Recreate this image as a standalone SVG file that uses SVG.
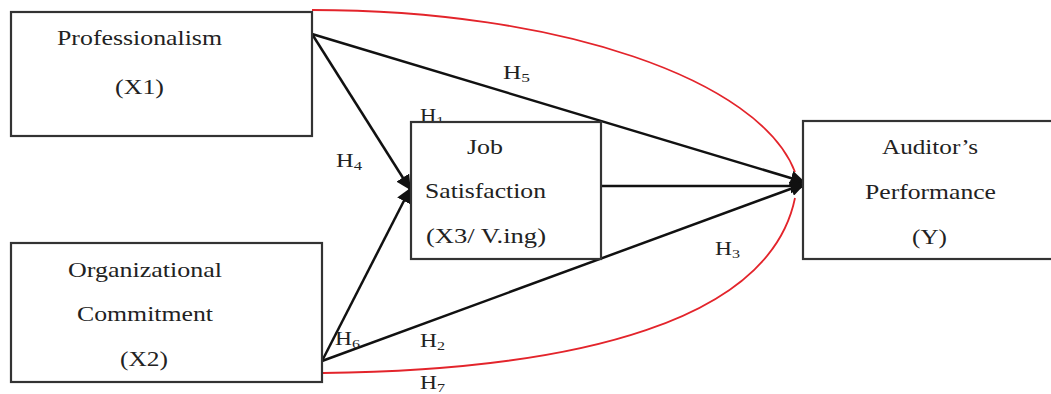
<svg xmlns="http://www.w3.org/2000/svg" width="1051" height="394" viewBox="0 0 1051 394">
<style>
.box{fill:#fff;stroke:#333;stroke-width:2.2}
.t{font-family:"Liberation Serif","Times New Roman",serif;font-size:21px;fill:#222}
.h{font-family:"Liberation Serif","Times New Roman",serif;font-size:19px;fill:#222}
.sub{font-size:13px}
.ln{stroke:#111;stroke-width:2.5;fill:none}
.red{stroke:#e3242b;stroke-width:1.8;fill:none}
</style>
<defs>
<marker id="ah" viewBox="0 0 10 10" refX="9" refY="5" markerWidth="6" markerHeight="6" markerUnits="strokeWidth" orient="auto">
<path d="M0,0 L10,5 L0,10 z" fill="#111"/>
</marker>
</defs>
<rect width="1051" height="394" fill="#fff"/>
<g id="labels-back">
<text class="h" x="420" y="122" textLength="24" lengthAdjust="spacingAndGlyphs">H<tspan class="sub" dy="3">1</tspan></text>
</g>
<g id="connectors">
<path class="red" d="M312,10 C560,10 760,80 795,172"/>
<path class="red" d="M323,373 C580,370 770,320 795,198"/>
<line class="ln" x1="312" y1="34" x2="804" y2="182" marker-end="url(#ah)"/>
<line class="ln" x1="312" y1="34" x2="410" y2="189" marker-end="url(#ah)"/>
<line class="ln" x1="322" y1="361" x2="410" y2="189" marker-end="url(#ah)"/>
<line class="ln" x1="322" y1="361" x2="804" y2="184" marker-end="url(#ah)"/>
<line class="ln" x1="601" y1="186" x2="804" y2="186" marker-end="url(#ah)"/>
</g>
<g id="node-x1">
<rect class="box" x="11" y="12" width="301" height="124"/>
<text class="t" x="57" y="45" textLength="165" lengthAdjust="spacingAndGlyphs">Professionalism</text>
<text class="t" x="115" y="94" textLength="49" lengthAdjust="spacingAndGlyphs">(X1)</text>
</g>
<g id="node-x3">
<rect class="box" x="411" y="122" width="190" height="137"/>
<text class="t" x="467" y="154" textLength="36" lengthAdjust="spacingAndGlyphs">Job</text>
<text class="t" x="425" y="198" textLength="121" lengthAdjust="spacingAndGlyphs">Satisfaction</text>
<text class="t" x="426" y="243" textLength="120" lengthAdjust="spacingAndGlyphs">(X3/ V.ing)</text>
</g>
<g id="node-x2">
<rect class="box" x="11" y="243" width="311" height="139"/>
<text class="t" x="68" y="277" textLength="154" lengthAdjust="spacingAndGlyphs">Organizational</text>
<text class="t" x="77" y="321" textLength="136" lengthAdjust="spacingAndGlyphs">Commitment</text>
<text class="t" x="120" y="366" textLength="48" lengthAdjust="spacingAndGlyphs">(X2)</text>
</g>
<g id="node-y">
<rect class="box" x="803" y="121" width="260" height="138"/>
<text class="t" x="882" y="154" textLength="96" lengthAdjust="spacingAndGlyphs">Auditor’s</text>
<text class="t" x="865" y="199" textLength="131" lengthAdjust="spacingAndGlyphs">Performance</text>
<text class="t" x="912" y="244" textLength="35" lengthAdjust="spacingAndGlyphs">(Y)</text>
</g>
<g id="labels">
<text class="h" x="503" y="79" textLength="27" lengthAdjust="spacingAndGlyphs">H<tspan class="sub" dy="3">5</tspan></text>
<text class="h" x="336" y="167" textLength="26" lengthAdjust="spacingAndGlyphs">H<tspan class="sub" dy="3">4</tspan></text>
<text class="h" x="715" y="255" textLength="25" lengthAdjust="spacingAndGlyphs">H<tspan class="sub" dy="3">3</tspan></text>
<text class="h" x="335" y="345" textLength="25" lengthAdjust="spacingAndGlyphs">H<tspan class="sub" dy="3">6</tspan></text>
<text class="h" x="420" y="347" textLength="25" lengthAdjust="spacingAndGlyphs">H<tspan class="sub" dy="3">2</tspan></text>
<text class="h" x="420" y="389" textLength="25" lengthAdjust="spacingAndGlyphs">H<tspan class="sub" dy="3">7</tspan></text>
</g>
</svg>
